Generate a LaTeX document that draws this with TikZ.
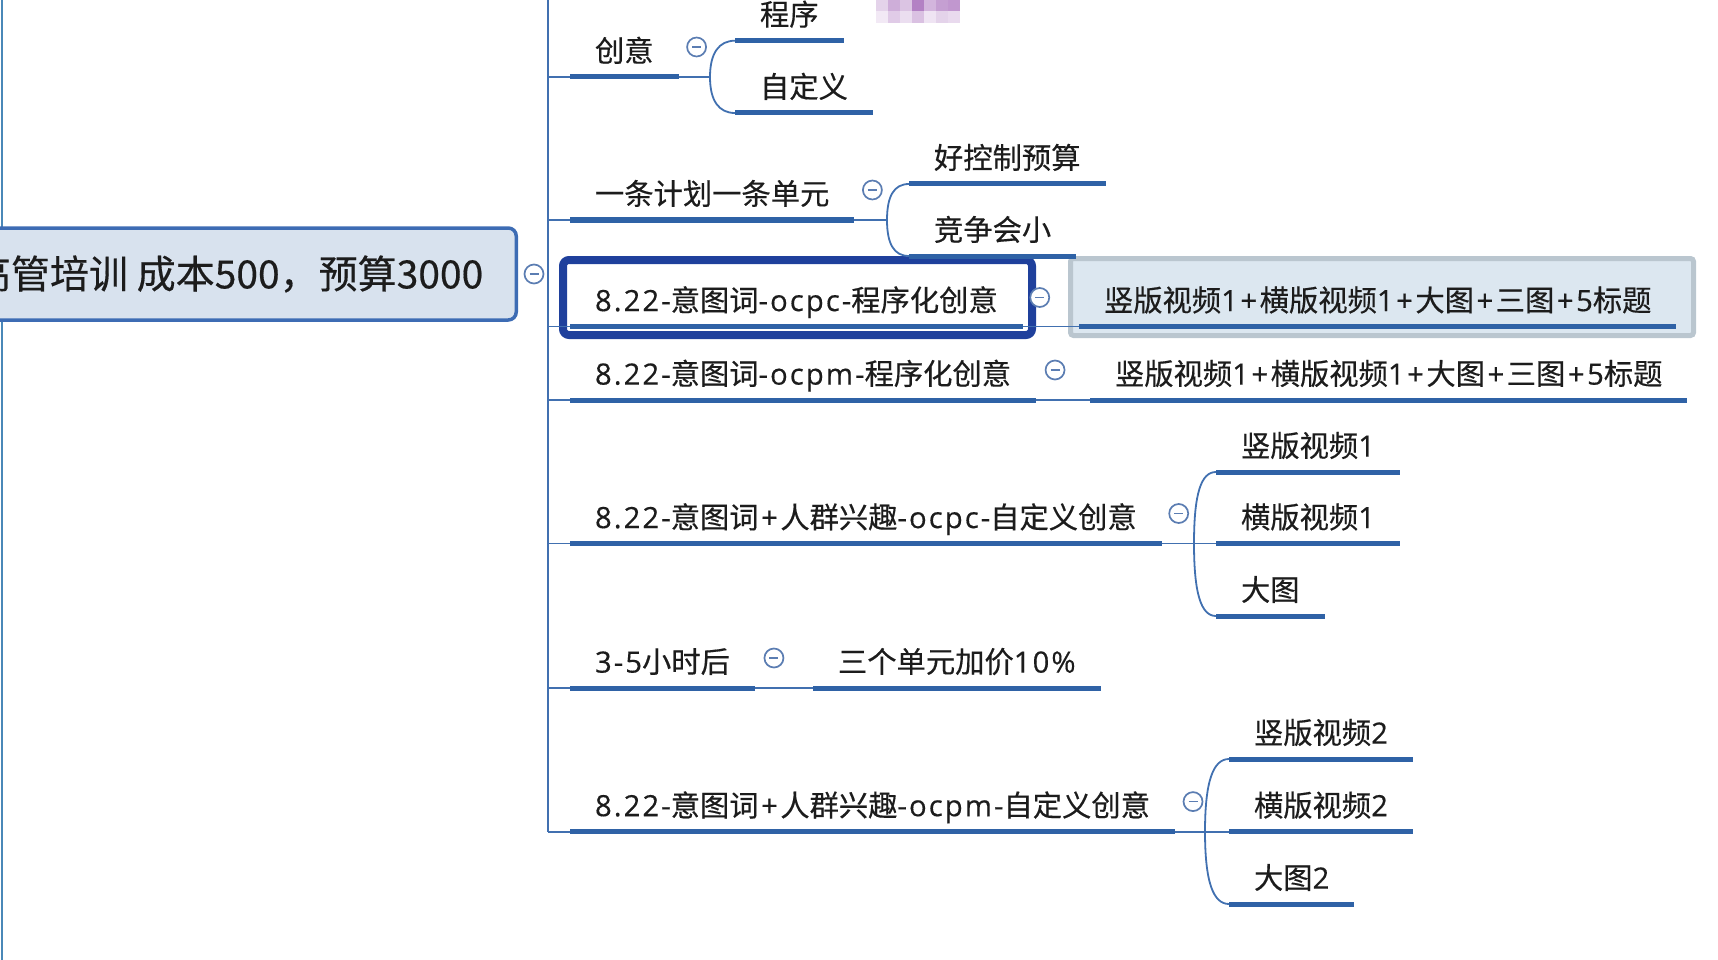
\documentclass[tikz,border=0pt]{standalone}
\usepackage{fontspec}
\setmainfont{Noto Sans CJK SC}[FakeBold=0.4]
\newfontfamily\latinfont{Open Sans}[LetterSpace=7, FakeBold=0.4]
\newcommand\en[1]{{\latinfont #1}}
\newcommand\addsign{\en{\kern2.5pt+\kern2.5pt}}
\usepackage{xcolor}
\usepackage{tikz}

\definecolor{lineblue}{HTML}{2F62A6}
\definecolor{linkblue}{HTML}{4170B0}
\definecolor{rootfill}{HTML}{D8E2EE}
\definecolor{rootdraw}{HTML}{3D6CB4}
\definecolor{selblue}{HTML}{1F409C}
\definecolor{hlfill}{HTML}{DCE7F0}
\definecolor{hldraw}{HTML}{BAC6CF}
\definecolor{foldblue}{HTML}{5B7DB2}
\definecolor{inkgray}{HTML}{1C1C1C}
\definecolor{mosaic}{HTML}{A66BBA}
\definecolor{edgeblue}{HTML}{4A88B8}

\begin{document}
\begin{tikzpicture}[x=1pt, y=-1pt,
    topic/.style={anchor=south west, inner xsep=25pt, inner ysep=0pt, outer sep=0pt, text depth=15.4pt, text=inkgray, font=\fontsize{29.3pt}{34pt}\selectfont},
    uline/.style={draw=lineblue, line width=5pt},
    link/.style={draw=linkblue, line width=1.8pt},
    fold/.style={circle, draw=foldblue, line width=1.7pt, fill=white, minimum size=19pt, inner sep=0pt,
        path picture={\draw[foldblue, line width=1.7pt] ([xshift=-4.5pt]path picture bounding box.center) -- ([xshift=4.5pt]path picture bounding box.center);}}]
    \useasboundingbox (0,0) rectangle (1718,960);
    \clip (0,0) rectangle (1718,960);

    \foreach \s [count=\i from 0] in {30,55,40,85,50,65,70}
        \fill[mosaic!\s] (876+12*\i,0) rectangle ++(12,11.5);
    \foreach \s [count=\i from 0] in {15,35,22,42,18,30,25}
        \fill[mosaic!\s] (876+12*\i,11.5) rectangle ++(12,11.5);
    \draw[edgeblue, line width=2pt] (2,0) -- (2,960);

    \node[draw=rootdraw, line width=3.5pt, fill=rootfill, rounded corners=8pt, anchor=east, inner xsep=33pt, minimum height=92pt, text=inkgray, font=\fontsize{39pt}{46pt}\selectfont] at (518,274) (root) {高管培训 成本500，预算3000};
    \node[fold] at ([xshift=16pt]root.east) (f0) {};

    \coordinate (trunk) at (548,0);
    \coordinate (trunkend) at (548,832);
    \draw[link] (trunk) -- (trunkend);

    \draw[selblue, line width=8pt, rounded corners=6pt] (563,260) rectangle (1032,335);
    \draw[hldraw, line width=5pt, fill=hlfill, rounded corners=3pt] (1070.5,258.5) rectangle (1693.5,335.5);

    \node[topic] at (570,77) (b1) {创意};
    \node[topic] at (570,220) (b2) {一条计划一条单元};
    \node[topic] at (570,326.5) (b3) {\en{8.22-}意图词\en{-ocpc-}程序化创意};
    \node[topic] at (570,400) (b4) {\en{8.22-}意图词\en{-ocpm-}程序化创意};
    \node[topic] at (570,543.5) (b5) {\en{8.22-}意图词\addsign 人群兴趣\en{-ocpc-}自定义创意};
    \node[topic] at (570,688) (b6) {\en{3-5}小时后};
    \node[topic] at (570,831.6) (b7) {\en{8.22-}意图词\addsign 人群兴趣\en{-ocpm-}自定义创意};

    \node[topic] at (735,40.7) (c11) {程序};
    \node[topic] at (735,113) (c12) {自定义};
    \node[topic] at (909,184) (c21) {好控制预算};
    \node[topic] at (909,256) (c22) {竞争会小};
    \node[topic] at (1079,326.5) (c3) {竖版视频\en{1}\addsign 横版视频\en{1}\addsign 大图\addsign 三图\addsign\en{5}标题};
    \node[topic] at (1090,400) (c4) {竖版视频\en{1}\addsign 横版视频\en{1}\addsign 大图\addsign 三图\addsign\en{5}标题};
    \node[topic] at (1216,472) (c51) {竖版视频\en{1}};
    \node[topic] at (1216,543.5) (c52) {横版视频\en{1}};
    \node[topic] at (1216,616) (c53) {大图};
    \node[topic] at (813,688) (c6) {三个单元加价\en{10\%}};
    \node[topic] at (1229,759) (c71) {竖版视频\en{2}};
    \node[topic] at (1229,831.6) (c72) {横版视频\en{2}};
    \node[topic] at (1229,904) (c73) {大图\en{2}};

    \foreach \n in {b1,b2,b3,b4,b5,b6,b7,c11,c12,c21,c22,c3,c4,c51,c52,c53,c6,c71,c72,c73}
        \draw[uline] (\n.south west) -- (\n.south east);
    \foreach \i in {1,...,7}
        \draw[link] (trunk |- b\i.south west) -- (b\i.south west);

    \coordinate (k1) at (710,77);
    \coordinate (k2) at (887,220);
    \coordinate (k5) at (1194,543.5);
    \coordinate (k7) at (1205,831.6);

    \draw[link] (b1.south east) -- (k1);
    \draw[link] (k1) .. controls +(0,-24) and +(-16,0) .. (c11.south west);
    \draw[link] (k1) .. controls +(0,24) and +(-16,0) .. (c12.south west);
    \draw[link] (b2.south east) -- (k2);
    \draw[link] (k2) .. controls +(0,-24) and +(-15,0) .. (c21.south west);
    \draw[link] (k2) .. controls +(0,24) and +(-15,0) .. (c22.south west);
    \draw[link] (b3.south east) -- (c3.south west);
    \draw[link] (b4.south east) -- (c4.south west);
    \draw[link] (b5.south east) -- (k5) -- (c52.south west);
    \draw[link] (k5) .. controls +(0,-50) and +(-15,0) .. (c51.south west);
    \draw[link] (k5) .. controls +(0,50) and +(-15,0) .. (c53.south west);
    \draw[link] (b6.south east) -- (c6.south west);
    \draw[link] (b7.south east) -- (k7) -- (c72.south west);
    \draw[link] (k7) .. controls +(0,-50) and +(-16,0) .. (c71.south west);
    \draw[link] (k7) .. controls +(0,50) and +(-16,0) .. (c73.south west);

    \node[fold] at ([xshift=18pt,yshift=30pt]b1.south east) (f1) {};
    \node[fold] at ([xshift=18pt,yshift=30pt]b2.south east) (f2) {};
    \node[fold] at ([xshift=17pt,yshift=29pt]b3.south east) (f3) {};
    \node[fold] at ([xshift=19pt,yshift=30pt]b4.south east) (f4) {};
    \node[fold] at ([xshift=17pt,yshift=30pt]b5.south east) (f5) {};
    \node[fold] at ([xshift=19pt,yshift=30pt]b6.south east) (f6) {};
    \node[fold] at ([xshift=18pt,yshift=30pt]b7.south east) (f7) {};
\end{tikzpicture}
\end{document}
